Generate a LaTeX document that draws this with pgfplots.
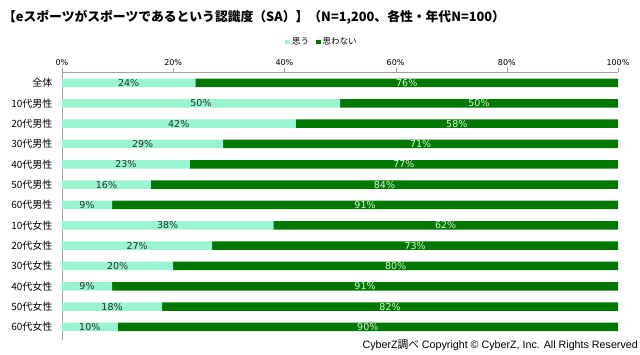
\documentclass[border=0pt]{standalone}
\usepackage{fontspec}
\usepackage{pgfplots}
\usepackage{pgfplotstable}
\pgfplotsset{compat=1.18}
\setmainfont{DejaVu Sans}
\newfontfamily\jp{Noto Sans CJK JP}
\newfontfamily\dv{DejaVu Sans}
\newfontfamily\ar{Liberation Sans}
\definecolor{lightc}{RGB}{153,245,208}
\definecolor{darkc}{RGB}{0,120,0}
\definecolor{axgray}{RGB}{160,160,160}
\definecolor{lbldark}{RGB}{30,50,40}
\definecolor{lbllight}{RGB}{215,248,215}

\pgfplotstableread{
y  yes no  cat
12 24 76 全体
11 50 50 10代男性
10 42 58 20代男性
9  29 71 30代男性
8  23 77 40代男性
7  16 84 50代男性
6  9  91 60代男性
5  38 62 10代女性
4  27 73 20代女性
3  20 80 30代女性
2  9  91 40代女性
1  18 82 50代女性
0  10 90 60代女性
}\datatable

\pgfplotstableread{
x  y  lab
12 12 24
25 11 50
21 10 42
14.5 9 29
11.5 8 23
8  7  16
4.5 6 9
19 5 38
13.5 4 27
10 3 20
4.5 2 9
9 1 18
5 0 10
}\yeslab

\pgfplotstableread{
x  y  lab
62 12 76
75 11 50
71 10 58
64.5 9 71
61.5 8 77
58 7 84
54.5 6 91
69 5 62
63.5 4 73
60 3 80
54.5 2 91
59 1 82
55 0 90
}\nolab

\pgfplotsset{common/.style={
  scale only axis, width=556bp, height=268bp,
  xmin=0, xmax=100, ymin=-0.64, ymax=12.54,
  at={(62bp,-72bp)}, anchor=north west,
}}

\begin{document}
\begin{tikzpicture}
\path[use as bounding box] (0,0) rectangle (640bp,-355bp);
\node[anchor=west, font=\jp\bfseries\fontsize{12.8bp}{15bp}\selectfont, inner sep=0pt] at (3bp,-17bp)
  {【eスポーツがスポーツであるという認識度（SA）】（N=1,200、各性・年代N=100）};
\begin{axis}[common,
  xbar stacked, bar width=8.5bp,
  axis x line*=top, axis y line*=left,
  axis line style={axgray},
  xtick={0,20,...,100},
  /pgf/number format/assume math mode=true,
  xticklabel={\pgfmathprintnumber{\tick}\%},
  xticklabel style={font=\dv\fontsize{8bp}{9bp}\selectfont, yshift=-1bp},
  x tick style={axgray},
  major tick length=4bp, minor tick length=4bp, tick align=outside,
  ytick={0,...,12},
  yticklabels={60代女性,50代女性,40代女性,30代女性,20代女性,10代女性,60代男性,50代男性,40代男性,30代男性,20代男性,10代男性,全体},
  yticklabel style={font=\jp\fontsize{10bp}{12bp}\selectfont, xshift=-2bp},
  y tick style={draw=none},
  minor ytick={-0.5,0.5,...,12.5},
  minor y tick style={axgray},
  legend style={at={(0.5,1)}, anchor=center, yshift=30bp, xshift=-18bp, draw=none,
     legend columns=2, font=\jp\fontsize{8.5bp}{10bp}\selectfont,
     /tikz/every even column/.append style={column sep=5bp}, inner sep=0pt},
  legend image code/.code={\fill[#1] (0bp,-2.3bp) rectangle (4.6bp,2.3bp);},
]
\addplot[fill=lightc, draw=none] table[x=yes, y=y] {\datatable};
\addplot[fill=darkc, draw=none] table[x=no, y=y] {\datatable};
\legend{思う,思わない}
\end{axis}
\begin{axis}[common, hide axis]
\addplot[only marks, mark=none, nodes near coords={\pgfplotspointmeta\%},
  point meta=explicit symbolic,
  every node near coord/.style={anchor=center, text=lbldark, font=\dv\fontsize{9.5bp}{10bp}\selectfont, inner sep=0pt}]
  table[x=x, y=y, meta=lab] {\yeslab};
\addplot[only marks, mark=none, nodes near coords={\pgfplotspointmeta\%},
  point meta=explicit symbolic,
  every node near coord/.style={anchor=center, text=lbllight, font=\dv\fontsize{9.5bp}{10bp}\selectfont, inner sep=0pt}]
  table[x=x, y=y, meta=lab] {\nolab};
\end{axis}
\node[anchor=east, inner sep=0pt, font=\ar\fontsize{10.7bp}{13bp}\selectfont] at (638bp,-345bp)
  {CyberZ{\jp 調べ} Copyright © CyberZ, Inc. All Rights Reserved};
\end{tikzpicture}
\end{document}
